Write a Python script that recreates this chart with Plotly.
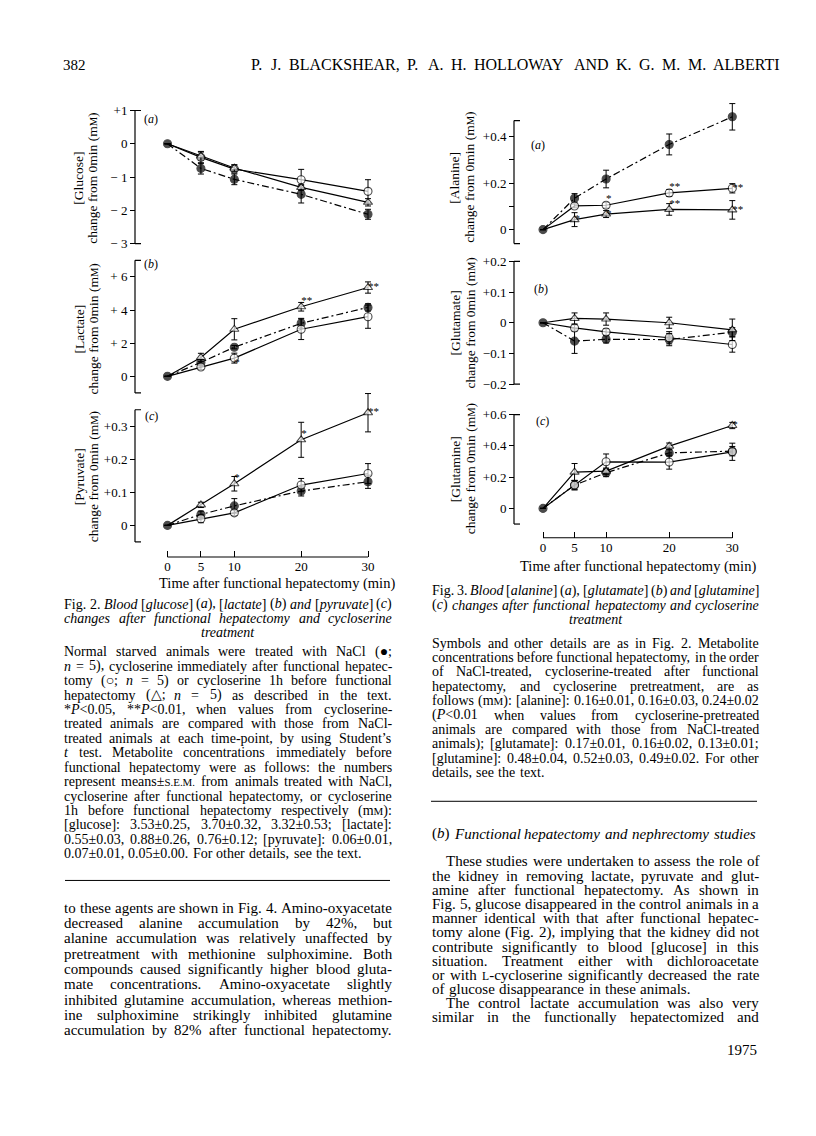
import re
import plotly.graph_objects as go

# The page body has an 8px margin, so the figure is drawn 8px in from the
# window's top-left corner; target coordinates below are window pixels.
WIN_W, WIN_H = 816, 1136
OFF = 8
FW, FH = WIN_W - 2 * OFF, WIN_H - 2 * OFF
SERIF = "Liberation Serif"


def px(X):
    return (X - OFF) / FW


def py(Y):
    return 1 - (Y - OFF) / FH


# ---------------- data ----------------
time_min = [0, 5, 10, 20, 30]
time_tick_labels = ["0", "5", "10", "20", "30"]

# Fig. 2 (a) glucose, change from 0 min (mM)
glucose_nacl = [0, -0.74, -1.07, -1.52, -2.12]
glucose_nacl_sem = [0, 0.17, 0.16, 0.26, 0.15]
glucose_cs_after = [0, -0.41, -0.76, -1.08, -1.43]
glucose_cs_after_sem = [0, 0.18, 0.12, 0.31, 0.35]
glucose_cs_before = [0, -0.37, -0.73, -1.31, -1.76]
glucose_cs_before_sem = [0, 0.12, 0.10, 0.09, 0.11]
glucose_sig_after = ["", "", "", "", ""]
glucose_sig_before = ["", "", "", "", ""]

# Fig. 2 (b) lactate
lactate_nacl = [0, 0.84, 1.76, 3.20, 4.16]
lactate_nacl_sem = [0, 0.20, 0.10, 0.30, 0.22]
lactate_cs_after = [0, 0.56, 1.10, 2.84, 3.60]
lactate_cs_after_sem = [0, 0.15, 0.30, 0.62, 0.70]
lactate_cs_before = [0, 1.14, 2.84, 4.20, 5.36]
lactate_cs_before_sem = [0, 0.25, 0.64, 0.26, 0.34]
lactate_sig_after = ["", "", "*", "", ""]
lactate_sig_before = ["", "", "", "**", "**"]

# Fig. 2 (c) pyruvate
pyruvate_nacl = [0, 0.033, 0.059, 0.104, 0.132]
pyruvate_nacl_sem = [0, 0.010, 0.022, 0.015, 0.020]
pyruvate_cs_after = [0, 0.020, 0.038, 0.122, 0.157]
pyruvate_cs_after_sem = [0, 0.012, 0.008, 0.020, 0.030]
pyruvate_cs_before = [0, 0.062, 0.126, 0.259, 0.341]
pyruvate_cs_before_sem = [0, 0.008, 0.022, 0.053, 0.058]
pyruvate_sig_after = ["", "", "", "", ""]
pyruvate_sig_before = ["", "", "*", "*", "**"]

# Fig. 3 (a) alanine
alanine_nacl = [0, 0.135, 0.218, 0.367, 0.486]
alanine_nacl_sem = [0, 0.020, 0.038, 0.045, 0.057]
alanine_cs_after = [0, 0.102, 0.105, 0.158, 0.178]
alanine_cs_after_sem = [0, 0.008, 0.012, 0.015, 0.020]
alanine_cs_before = [0, 0.043, 0.067, 0.087, 0.085]
alanine_cs_before_sem = [0, 0.030, 0.015, 0.025, 0.040]
alanine_sig_after = ["", "", "*", "**", "**"]
alanine_sig_before = ["", "*", "*", "**", "**"]

# Fig. 3 (b) glutamate
glutamate_nacl = [0, -0.060, -0.054, -0.055, -0.031]
glutamate_nacl_sem = [0, 0.040, 0.012, 0.020, 0.015]
glutamate_cs_after = [0, -0.017, -0.030, -0.049, -0.071]
glutamate_cs_after_sem = [0, 0.010, 0.010, 0.020, 0.025]
glutamate_cs_before = [0, 0.014, 0.012, 0.000, -0.023]
glutamate_cs_before_sem = [0, 0.018, 0.020, 0.018, 0.035]
glutamate_sig_after = ["", "", "", "", ""]
glutamate_sig_before = ["", "", "", "", ""]

# Fig. 3 (c) glutamine
glutamine_nacl = [0, 0.149, 0.228, 0.355, 0.366]
glutamine_nacl_sem = [0, 0.030, 0.025, 0.020, 0.030]
glutamine_cs_after = [0, 0.149, 0.298, 0.296, 0.362]
glutamine_cs_after_sem = [0, 0.030, 0.050, 0.045, 0.055]
glutamine_cs_before = [0, 0.232, 0.238, 0.398, 0.530]
glutamine_cs_before_sem = [0, 0.055, 0.020, 0.020, 0.020]
glutamine_sig_after = ["", "", "", "", ""]
glutamine_sig_before = ["", "", "", "", "*"]

# y tick values / labels
glucose_ticks = [1, 0, -1, -2, -3]
glucose_tick_labels = ["+1", "0", "− 1", "− 2", "− 3"]
lactate_ticks = [0, 2, 4, 6]
lactate_tick_labels = ["0", "+ 2", "+ 4", "+ 6"]
pyruvate_ticks = [0, 0.1, 0.2, 0.3]
pyruvate_tick_labels = ["0", "+0.1", "+0.2", "+0.3"]
alanine_ticks = [0, 0.1, 0.2, 0.3, 0.4]
alanine_tick_labels = ["0", "", "+0.2", "", "+0.4"]
glutamate_ticks = [-0.2, -0.1, 0, 0.1, 0.2]
glutamate_tick_labels = ["−0.2", "−0.1", "0", "+0.1", "+0.2"]
glutamine_ticks = [0, 0.2, 0.4, 0.6]
glutamine_tick_labels = ["0", "+0.2", "+0.4", "+0.6"]

# ---------------- geometry (window pixels) ----------------
GEOM = {
    "f2": dict(axis=135, x0=167.5, x30=368.0, xdom=(148, 392), xline=556.0,
               xtitle=(277, 583), title_x=(79, 93)),
    "f3": dict(axis=514, x0=543.0, x30=732.3, xdom=(524, 756), xline=536.7,
               xtitle=(638, 565), title_x=(455, 470)),
}

TR, MR, BR = "top right", "middle right", "bottom right"
panels = [
    dict(n=1, g="f2", name="Glucose", lab="a",
         series=[(glucose_nacl, glucose_nacl_sem, None),
                 (glucose_cs_after, glucose_cs_after_sem, glucose_sig_after),
                 (glucose_cs_before, glucose_cs_before_sem, glucose_sig_before)],
         sigpos=[None, TR, TR],
         ticks=glucose_ticks, ticktext=glucose_tick_labels,
         zero=142.0, ppu=33.33, lo=-3, hi=1, dom=(95, 252), lab_px=(151, 117), title_y=177,
         show_x=False),
    dict(n=2, g="f2", name="Lactate", lab="b",
         series=[(lactate_nacl, lactate_nacl_sem, None),
                 (lactate_cs_after, lactate_cs_after_sem, lactate_sig_after),
                 (lactate_cs_before, lactate_cs_before_sem, lactate_sig_before)],
         sigpos=[None, BR, [TR, TR, TR, TR, MR]],
         ticks=lactate_ticks, ticktext=lactate_tick_labels,
         zero=375.0, ppu=16.6, lo=-1, hi=7, dom=(254, 398), lab_px=(151, 262), title_y=328,
         show_x=False),
    dict(n=3, g="f2", name="Pyruvate", lab="c",
         series=[(pyruvate_nacl, pyruvate_nacl_sem, None),
                 (pyruvate_cs_after, pyruvate_cs_after_sem, pyruvate_sig_after),
                 (pyruvate_cs_before, pyruvate_cs_before_sem, pyruvate_sig_before)],
         sigpos=[None, TR, [TR, TR, TR, TR, MR]],
         ticks=pyruvate_ticks, ticktext=pyruvate_tick_labels,
         zero=524.3, ppu=331.0, lo=-0.05, hi=0.35, dom=(380, 546), lab_px=(151, 415), title_y=476,
         show_x=True),
    dict(n=4, g="f3", name="Alanine", lab="a",
         series=[(alanine_nacl, alanine_nacl_sem, None),
                 (alanine_cs_after, alanine_cs_after_sem, alanine_sig_after),
                 (alanine_cs_before, alanine_cs_before_sem, alanine_sig_before)],
         sigpos=[None, [TR, TR, TR, TR, MR], [MR, MR, MR, TR, MR]],
         ticks=alanine_ticks, ticktext=alanine_tick_labels,
         zero=228.0, ppu=232.5, lo=-0.06, hi=0.47, dom=(92, 248), lab_px=(538, 143), title_y=176,
         show_x=False),
    dict(n=5, g="f3", name="Glutamate", lab="b",
         series=[(glutamate_nacl, glutamate_nacl_sem, None),
                 (glutamate_cs_after, glutamate_cs_after_sem, glutamate_sig_after),
                 (glutamate_cs_before, glutamate_cs_before_sem, glutamate_sig_before)],
         sigpos=[None, TR, TR],
         ticks=glutamate_ticks, ticktext=glutamate_tick_labels,
         zero=321.3, ppu=307.0, lo=-0.2, hi=0.2, dom=(254, 390), lab_px=(541, 287), title_y=322,
         show_x=False),
    dict(n=6, g="f3", name="Glutamine", lab="c",
         series=[(glutamine_nacl, glutamine_nacl_sem, None),
                 (glutamine_cs_after, glutamine_cs_after_sem, glutamine_sig_after),
                 (glutamine_cs_before, glutamine_cs_before_sem, glutamine_sig_before)],
         sigpos=[None, TR, MR],
         ticks=glutamine_ticks, ticktext=glutamine_tick_labels,
         zero=507.3, ppu=156.7, lo=-0.1, hi=0.6, dom=(402, 528), lab_px=(542, 420), title_y=468,
         show_x=True),
]

STYLES = [
    dict(symbol="circle", fill="black", dash="7px,3px,2px,3px", size=8),
    dict(symbol="circle", fill="white", dash="solid", size=8),
    dict(symbol="triangle-up", fill="white", dash="solid", size=8),
]

fig = go.Figure()
shapes = []
annotations = []


def ax_id(prefix, n):
    return prefix if n == 1 else f"{prefix}{n}"


def ann(text, X, Y, size, xanchor="left", angle=0, yanchor="middle"):
    annotations.append(dict(text=text, x=px(X), y=py(Y), xref="paper", yref="paper",
                            xanchor=xanchor, yanchor=yanchor, showarrow=False, textangle=angle,
                            borderpad=0, font=dict(family=SERIF, size=size, color="black")))


layout_axes = {}
for p in panels:
    g = GEOM[p["g"]]
    n = p["n"]
    xa, ya = ax_id("x", n), ax_id("y", n)
    for k, (vals, sem, sig) in enumerate(p["series"]):
        st = STYLES[k]
        sizes = [st["size"]] * len(time_min)
        if k > 0:
            sizes[0] = 0
        fig.add_trace(go.Scatter(
            x=time_min, y=vals, xaxis=xa, yaxis=ya, mode="lines+markers",
            line=dict(color="black", width=1.2, dash=st["dash"]),
            marker=dict(symbol=st["symbol"], size=sizes, color=st["fill"],
                        line=dict(color="black", width=1.1)),
            error_y=dict(type="data", array=sem, color="black", thickness=1, width=3),
            cliponaxis=False, hoverinfo="skip", showlegend=False))
        if sig and any(sig):
            fig.add_trace(go.Scatter(
                x=time_min, y=vals, xaxis=xa, yaxis=ya, mode="text", text=sig,
                textposition=p["sigpos"][k], textfont=dict(family=SERIF, size=11, color="black"),
                cliponaxis=False, hoverinfo="skip", showlegend=False))

    span = g["x30"] - g["x0"]
    xr = [(g["xdom"][0] - g["x0"]) / span * 30, (g["xdom"][1] - g["x0"]) / span * 30]
    layout_axes["xaxis" if n == 1 else f"xaxis{n}"] = dict(
        domain=[px(g["xdom"][0]), px(g["xdom"][1])], range=xr, anchor="free",
        position=py(g["xline"]), visible=p["show_x"], showline=False, showgrid=False,
        zeroline=False, ticks="inside", ticklen=6, tickwidth=1, tickcolor="black",
        tickvals=time_min, ticktext=time_tick_labels,
        tickfont=dict(family=SERIF, size=13, color="black"), fixedrange=True)
    yr = [(p["zero"] - p["dom"][1]) / p["ppu"], (p["zero"] - p["dom"][0]) / p["ppu"]]
    layout_axes["yaxis" if n == 1 else f"yaxis{n}"] = dict(
        domain=[py(p["dom"][1]), py(p["dom"][0])], range=yr, anchor="free",
        position=px(g["axis"]), showline=False, showgrid=False, zeroline=False,
        ticks="outside", ticklen=5, tickwidth=1, tickcolor="black",
        tickvals=p["ticks"], ticktext=p["ticktext"],
        tickfont=dict(family=SERIF, size=13, color="black"), fixedrange=True)

    # axis line with end caps
    ax = px(g["axis"])
    shapes.append(dict(type="line", xref="paper", yref=ya, x0=ax, x1=ax, y0=p["lo"], y1=p["hi"],
                       line=dict(color="black", width=1.2)))
    for v in (p["lo"], p["hi"]):
        shapes.append(dict(type="line", xref="paper", yref=ya, x0=ax, x1=px(g["axis"] + 6),
                           y0=v, y1=v, line=dict(color="black", width=1.2)))
    if p["show_x"]:
        shapes.append(dict(type="line", xref=xa, yref="paper", x0=time_min[0], x1=time_min[-1],
                           y0=py(g["xline"]), y1=py(g["xline"]),
                           line=dict(color="black", width=1.2)))
        ann("Time after functional hepatectomy (min)", g["xtitle"][0], g["xtitle"][1], 14.5,
            xanchor="center")
    # y title (two lines)
    ann(f"[{p['name']}]", g["title_x"][0], p["title_y"], 13.5, xanchor="center", angle=-90)
    ann("change from 0min (m<span style='font-size:10.5px'>M</span>)", g["title_x"][1],
        p["title_y"], 13.5, xanchor="center", angle=-90)
    ann(f"(<i>{p['lab']}</i>)", p["lab_px"][0], p["lab_px"][1], 12, xanchor="center")

# ---------------- justified text ----------------
ROMAN = dict(zip("abcdefghijklmnopqrstuvwxyz",
                 [444, 500, 444, 500, 444, 333, 500, 500, 278, 278, 500, 278, 778, 500, 500, 500,
                  500, 333, 389, 278, 500, 500, 722, 500, 500, 444]))
ROMAN.update(zip("ABCDEFGHIJKLMNOPQRSTUVWXYZ",
                 [722, 667, 667, 722, 611, 556, 722, 722, 333, 389, 722, 611, 889, 722, 722, 556,
                  722, 667, 556, 611, 722, 722, 944, 722, 722, 611]))
ROMAN.update({c: 500 for c in "0123456789"})
ROMAN.update({" ": 250, ".": 250, ",": 250, ":": 278, ";": 278, "(": 333, ")": 333, "[": 333,
              "]": 333, "-": 333, "%": 833, "*": 500, "’": 333, "±": 549, "<": 564, "=": 564,
              "+": 564, "●": 600, "○": 600, "△": 600, "−": 564})
ITAL = dict(zip("abcdefghijklmnopqrstuvwxyz",
                [500, 500, 444, 500, 444, 278, 500, 500, 278, 278, 444, 278, 722, 500, 500, 500,
                 500, 389, 389, 278, 500, 444, 667, 444, 444, 389]))
ITAL.update({"P": 611, "B": 611, "F": 611})

TAG = re.compile(r"(<i>|</i>|<sc>|</sc>)")
state = {"i": False, "sc": False}


def word_markup(word, size):
    out, w = "", 0.0
    for part in TAG.split(word):
        if part == "<i>":
            state["i"] = True
        elif part == "</i>":
            state["i"] = False
        elif part == "<sc>":
            state["sc"] = True
        elif part == "</sc>":
            state["sc"] = False
        elif part:
            f = 0.78 if state["sc"] else 1.0
            tab = ITAL if state["i"] else ROMAN
            w += sum(tab.get(c, ROMAN.get(c, 500)) for c in part) * size * f / 1000.0
            s = part.replace("&", "&amp;").replace("<", "&lt;").replace(">", "&gt;")
            if state["i"]:
                s = "<i>" + s + "</i>"
            if state["sc"]:
                s = f"<span style='font-size:{size * f:.1f}px'>" + s + "</span>"
            out += s
    return out, w


def text_line(line, x0, x1, y, size, justify=True, align="left"):
    items = [word_markup(wd, size) for wd in line.split(" ")]
    total = sum(w for _, w in items)
    nat = 0.3 * size
    if justify and len(items) > 1:
        gap = max((x1 - x0 - total) / (len(items) - 1), 2.0)
    else:
        gap = nat
    full = total + gap * (len(items) - 1)
    x = (x0 + x1) / 2 - full / 2 if align == "center" else x0
    for m, w in items:
        ann(m, x, y, size)
        x += w + gap


def paragraph(lines, x0, x1, y0, step, size, last_justified=False, indent_first=0.0):
    for i, ln in enumerate(lines):
        last = i == len(lines) - 1
        text_line(ln, x0 + (indent_first if i == 0 else 0), x1, y0 + i * step, size,
                  justify=(not last) or last_justified)


L0, L1 = 63, 391
R0, R1 = 431, 758

# header
ann("382", 62, 63, 15)
text_line("P. J. BLACKSHEAR, P. A. H. HOLLOWAY AND K. G. M. M. ALBERTI", 250, 780, 63, 16)

# Fig. 2 caption
text_line("Fig. 2. <i>Blood</i> [<i>glucose</i>] (<i>a</i>), [<i>lactate</i>] (<i>b</i>) <i>and</i> "
          "[<i>pyruvate</i>] (<i>c</i>)", L0, L1, 603.3, 14)
text_line("<i>changes after functional hepatectomy and cycloserine</i>", L0, L1, 617.3, 14)
text_line("<i>treatment</i>", L0, L1, 631.3, 14, justify=False, align="center")

fig2_body = [
    "Normal starved animals were treated with NaCl (●;",
    "<i>n</i> = 5), cycloserine immediately after functional hepatec-",
    "tomy (○; <i>n</i> = 5) or cycloserine 1h before functional",
    "hepatectomy (△; <i>n</i> = 5) as described in the text.",
    "*<i>P</i><0.05, **<i>P</i><0.01, when values from cycloserine-",
    "treated animals are compared with those from NaCl-",
    "treated animals at each time-point, by using Student’s",
    "<i>t</i> test. Metabolite concentrations immediately before",
    "functional hepatectomy were as follows: the numbers",
    "represent means±<sc>S.E.M.</sc> from animals treated with NaCl,",
    "cycloserine after functional hepatectomy, or cycloserine",
    "1h before functional hepatectomy respectively (m<sc>M</sc>):",
    "[glucose]: 3.53±0.25, 3.70±0.32, 3.32±0.53; [lactate]:",
    "0.55±0.03, 0.88±0.26, 0.76±0.12; [pyruvate]: 0.06±0.01,",
    "0.07±0.01, 0.05±0.00. For other details, see the text.",
]
paragraph(fig2_body, L0, L1, 651.0, 14.45, 14)

shapes.append(dict(type="line", xref="paper", yref="paper", x0=px(65), x1=px(390),
                   y0=py(880), y1=py(880), line=dict(color="black", width=1)))

left_text = [
    "to these agents are shown in Fig. 4. Amino-oxyacetate",
    "decreased alanine accumulation by 42%, but",
    "alanine accumulation was relatively unaffected by",
    "pretreatment with methionine sulphoximine. Both",
    "compounds caused significantly higher blood gluta-",
    "mate concentrations. Amino-oxyacetate slightly",
    "inhibited glutamine accumulation, whereas methion-",
    "ine sulphoximine strikingly inhibited glutamine",
    "accumulation by 82% after functional hepatectomy.",
]
paragraph(left_text, L0, L1, 907.3, 15.35, 15, last_justified=True)

# Fig. 3 caption
text_line("Fig. 3. <i>Blood</i> [<i>alanine</i>] (<i>a</i>), [<i>glutamate</i>] (<i>b</i>) <i>and</i> "
          "[<i>glutamine</i>]", R0, R1, 589.8, 14)
text_line("(<i>c</i>) <i>changes after functional hepatectomy and cycloserine</i>", R0, R1, 604.3, 14)
text_line("<i>treatment</i>", R0, R1, 618.5, 14, justify=False, align="center")

fig3_body = [
    "Symbols and other details are as in Fig. 2. Metabolite",
    "concentrations before functional hepatectomy, in the order",
    "of NaCl-treated, cycloserine-treated after functional",
    "hepatectomy, and cycloserine pretreatment, are as",
    "follows (m<sc>M</sc>): [alanine]: 0.16±0.01, 0.16±0.03, 0.24±0.02",
    "(<i>P</i><0.01 when values from cycloserine-pretreated",
    "animals are compared with those from NaCl-treated",
    "animals); [glutamate]: 0.17±0.01, 0.16±0.02, 0.13±0.01;",
    "[glutamine]: 0.48±0.04, 0.52±0.03, 0.49±0.02. For other",
    "details, see the text.",
]
paragraph(fig3_body, R0, R1, 642.3, 14.4, 14)

shapes.append(dict(type="line", xref="paper", yref="paper", x0=px(431), x1=px(757),
                   y0=py(800.7), y1=py(800.7), line=dict(color="black", width=1)))

text_line("(<i>b</i>) <i>Functional hepatectomy and nephrectomy studies</i>", R0, R1, 833.3, 15,
          justify=False)

right_text_1 = [
    "These studies were undertaken to assess the role of",
    "the kidney in removing lactate, pyruvate and glut-",
    "amine after functional hepatectomy. As shown in",
    "Fig. 5, glucose disappeared in the control animals in a",
    "manner identical with that after functional hepatec-",
    "tomy alone (Fig. 2), implying that the kidney did not",
    "contribute significantly to blood [glucose] in this",
    "situation. Treatment either with dichloroacetate",
    "or with <sc>L</sc>-cycloserine significantly decreased the rate",
    "of glucose disappearance in these animals.",
]
paragraph(right_text_1, R0, R1, 861.0, 14.2, 15, indent_first=14)
right_text_2 = [
    "The control lactate accumulation was also very",
    "similar in the functionally hepatectomized and",
]
paragraph(right_text_2, R0, R1, 861.0 + 10 * 14.2, 14.2, 15, last_justified=True, indent_first=14)

ann("1975", 758, 1050, 15, xanchor="right")

fig.update_layout(
    width=FW, height=FH, margin=dict(l=0, r=0, t=0, b=0),
    paper_bgcolor="white", plot_bgcolor="rgba(0,0,0,0)", showlegend=False,
    shapes=shapes, annotations=annotations, **layout_axes)

fig.write_html("out.html")
